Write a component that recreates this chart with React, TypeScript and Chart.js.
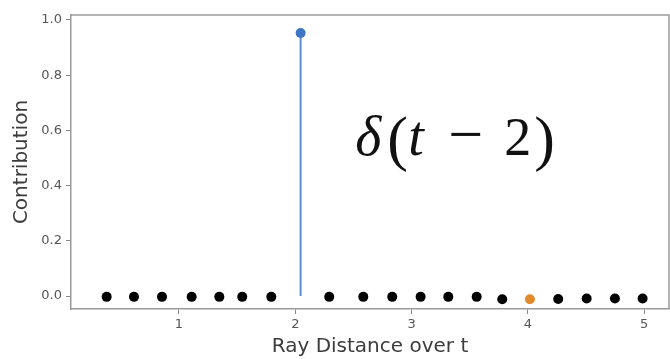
import React, { useEffect, useRef } from "react";
import { Chart, registerables } from "chart.js";

Chart.register(...registerables);

// Sample points (ray distance over t, contribution)
const dotX = [0.378, 0.613, 0.854, 1.109, 1.347, 1.544, 1.794, 2.292, 2.585, 2.834, 3.078, 3.316, 3.56, 3.78, 4.261, 4.506, 4.749, 4.987];
const dotY = [-0.003, -0.003, -0.003, -0.003, -0.003, -0.003, -0.003, -0.003, -0.003, -0.003, -0.003, -0.003, -0.003, -0.012, -0.011, -0.009, -0.009, -0.009];
// Delta spike
const stemX = [2.046, 2.046];
const stemY = [0, 0.953];
// Highlighted sample
const hiX = [4.018];
const hiY = [-0.012];

const xTicks = [1, 2, 3, 4, 5];
const yTicks = [0.0, 0.2, 0.4, 0.6, 0.8, 1.0];

const xLabel = "Ray Distance over t";
const yLabel = "Contribution";
const formulaAnchor = { x: 2.515, y: 0.511 };

const pts = (xs: number[], ys: number[]) => xs.map((x, i) => ({ x, y: ys[i] }));

const framePlugin = {
  id: "frame",
  afterDraw(chart: any) {
    const { ctx, chartArea } = chart;
    ctx.save();
    ctx.strokeStyle = "#9a9a9a";
    ctx.lineWidth = 1.5;
    ctx.beginPath();
    ctx.moveTo(chartArea.left, chartArea.top);
    ctx.lineTo(chartArea.right, chartArea.top);
    ctx.lineTo(chartArea.right, chartArea.bottom);
    ctx.stroke();
    ctx.restore();
  },
};

const formulaPlugin = {
  id: "formula",
  afterDraw(chart: any) {
    const { ctx, scales } = chart;
    const ax = scales.x.getPixelForValue(formulaAnchor.x);
    const ay = scales.y.getPixelForValue(formulaAnchor.y);
    const parts: [string, string, number, number][] = [
      ["δ", "italic 56px 'Liberation Serif'", 0, 0],
      ["(", "62px 'Liberation Serif'", 32, 4],
      ["t", "italic 56px 'Liberation Serif'", 53, 0],
      ["−", "62px 'Liberation Serif'", 93, 0],
      ["2", "54px 'Liberation Serif'", 149, 0],
      [")", "62px 'Liberation Serif'", 179, 4],
    ];
    ctx.save();
    ctx.fillStyle = "#111";
    ctx.textAlign = "left";
    ctx.textBaseline = "alphabetic";
    for (const [t, f, dx, dy] of parts) {
      ctx.font = f;
      ctx.fillText(t, ax + dx, ay + dy);
    }
    ctx.restore();
  },
};

export default function App() {
  const ref = useRef<HTMLCanvasElement | null>(null);
  useEffect(() => {
    if (!ref.current) return;
    const tickFont = { family: "'DejaVu Sans'", size: 13 };
    const titleFont = { family: "'DejaVu Sans'", size: 20 };
    const chart = new Chart(ref.current, {
      type: "scatter",
      data: {
        datasets: [
          { data: pts(dotX, dotY), backgroundColor: "#000", pointRadius: 5, pointBorderWidth: 0, showLine: false },
          { data: pts(stemX, stemY), showLine: true, borderColor: "#5a8ed2", borderWidth: 2, backgroundColor: "#3f76c4", pointRadius: [0, 5], pointBorderWidth: 0 },
          { data: pts(hiX, hiY), backgroundColor: "#e38a2c", pointRadius: 5, pointBorderWidth: 0, showLine: false },
        ],
      },
      options: {
        animation: false,
        responsive: false,
        layout: { autoPadding: false, padding: { top: 15, right: 1, left: 0, bottom: 0 } },
        plugins: { legend: { display: false }, tooltip: { enabled: false }, title: { display: false } },
        scales: {
          x: {
            type: "linear", min: 0.0714, max: 5.214,
            afterFit: (s: any) => { s.height = 50; s.paddingLeft = 0; s.paddingRight = 0; },
            afterBuildTicks: (s: any) => { s.ticks = xTicks.map((v) => ({ value: v })); },
            ticks: { font: tickFont, color: "#555", padding: 3, maxRotation: 0 },
            grid: { drawOnChartArea: false, tickLength: 5, tickColor: "#888" },
            border: { color: "#9a9a9a", width: 1.5 },
            title: { display: true, text: xLabel, font: titleFont, color: "#3c3c3c", padding: 0 },
          },
          y: {
            type: "linear", min: -0.047, max: 1.018,
            afterFit: (s: any) => { s.width = 71; },
            afterBuildTicks: (s: any) => { s.ticks = yTicks.map((v) => ({ value: v })); },
            ticks: { font: tickFont, color: "#555", padding: 4, callback: (v: any) => Number(v).toFixed(1) },
            grid: { drawOnChartArea: false, tickLength: 5, tickColor: "#888" },
            border: { color: "#9a9a9a", width: 1.5 },
            title: { display: true, text: yLabel, font: titleFont, color: "#3c3c3c", padding: { top: 10, bottom: 0 } },
          },
        },
      },
      plugins: [framePlugin, formulaPlugin],
    });
    return () => chart.destroy();
  }, []);
  return (
    <div style={{ position: "fixed", left: 0, top: 0, width: 670, height: 359, background: "#fff" }}>
      <canvas ref={ref} width={670} height={359} />
    </div>
  );
}
